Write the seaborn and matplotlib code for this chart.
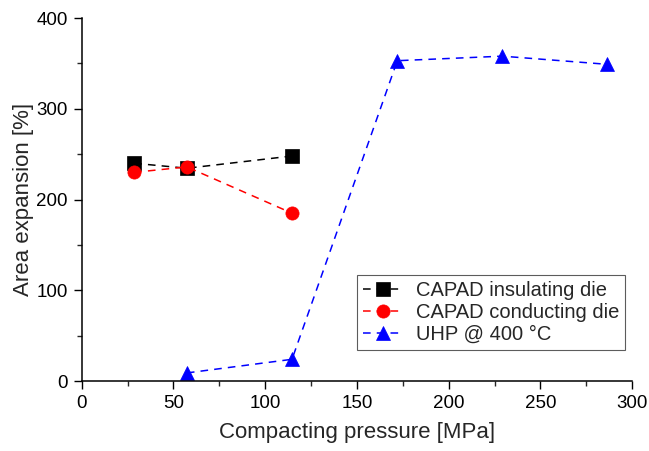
import matplotlib
matplotlib.use("Agg")
import matplotlib.pyplot as plt
import seaborn as sns
from matplotlib.ticker import MultipleLocator

sns.set_style("ticks")
plt.rcParams['font.family'] = ['Liberation Sans', 'DejaVu Sans']

# Data
ins_x = [28.6, 57.3, 114.6]
ins_y = [240, 234.5, 248]
con_x = [28.6, 57.3, 114.6]
con_y = [230, 236, 185]
uhp_x = [57.3, 114.6, 172.0, 229.2, 286.5]
uhp_y = [9, 24, 353, 358, 349]

labels = ["CAPAD insulating die", "CAPAD conducting die", "UHP @ 400 °C"]

fig = plt.figure(figsize=(6.49, 4.51), dpi=100)
ax = fig.add_axes([0.126, 0.155, 0.848, 0.805])

series = [
    (ins_x, ins_y, 's', 'black', labels[0]),
    (con_x, con_y, 'o', 'red', labels[1]),
    (uhp_x, uhp_y, '^', 'blue', labels[2]),
]
for xs, ys, m, c, lab in series:
    sns.lineplot(x=xs, y=ys, ax=ax, marker=m, color=c,
                 linewidth=1.1, markersize=9.5, markeredgecolor=c,
                 markeredgewidth=0.5, label=lab)
    ax.lines[-1].set_dashes((5, 4))

ax.set_xlim(0, 300)
ax.set_ylim(0, 400)
ax.xaxis.set_major_locator(MultipleLocator(50))
ax.xaxis.set_minor_locator(MultipleLocator(25))
ax.yaxis.set_major_locator(MultipleLocator(100))
ax.yaxis.set_minor_locator(MultipleLocator(50))
sns.despine(ax=ax)
for s in ['left', 'bottom']:
    ax.spines[s].set_linewidth(1.1)
    ax.spines[s].set_color('black')
ax.tick_params(axis='both', which='major', direction='out', length=6, width=1.0,
               labelsize=13.5, colors='black', pad=4)
ax.tick_params(axis='both', which='minor', direction='out', length=3.5, width=1.0)

ax.set_xlabel("Compacting pressure [MPa]", fontsize=16, labelpad=7)
ax.set_ylabel("Area expansion [%]", fontsize=16, labelpad=2)

leg = ax.legend(loc='lower right', bbox_to_anchor=(0.987, 0.085), fontsize=14.5,
                frameon=True, fancybox=False, edgecolor='#333333',
                handlelength=2.0, handletextpad=0.6, borderpad=0.3,
                labelspacing=0.15, borderaxespad=0)
leg.get_frame().set_linewidth(0.8)

fig.savefig("out.png", dpi=100)
